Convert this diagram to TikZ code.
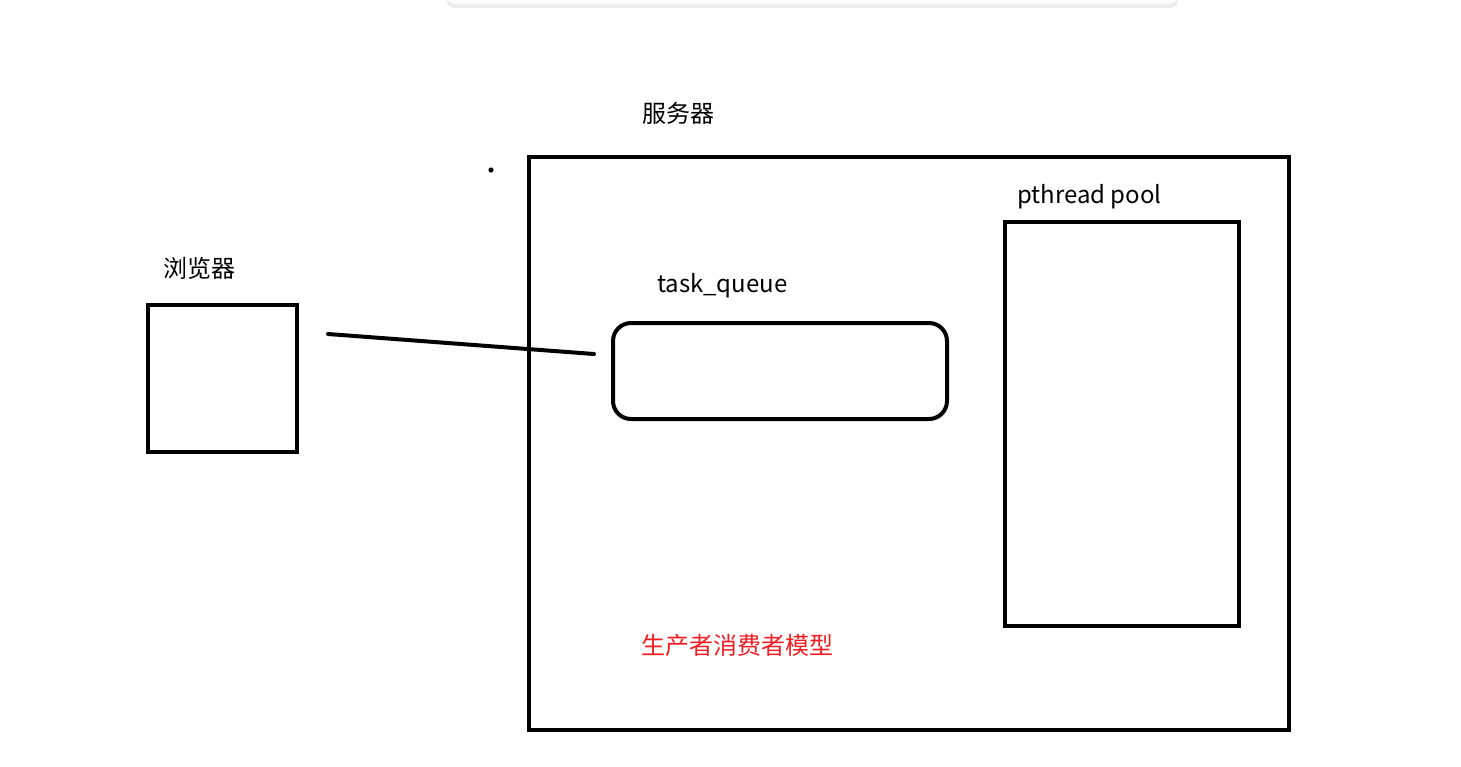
\documentclass[tikz,border=0pt]{standalone}
\usepackage{fontspec}
\setmainfont{Noto Sans CJK SC}
\usetikzlibrary{positioning, calc, shadows}
\definecolor{labelred}{RGB}{240,30,35}

\begin{document}
\begin{tikzpicture}[x=0.5pt, y=-0.5pt, line width=2pt,
    box/.style={draw, rectangle, inner sep=0pt},
    lbl/.style={inner sep=0pt, font=\fontsize{12pt}{14pt}\selectfont}]
    \useasboundingbox (0,0) rectangle (1461,766);

    % window bar at the top
    \fill[gray!4, drop shadow={opacity=0.15, shadow xshift=0pt, shadow yshift=-2pt}]
        (447,-12) [rounded corners=4pt] rectangle (1178,4);

    % browser
    \node[box, minimum width=74.5pt, minimum height=73.5pt] (browser) at (222.5,378.5) {};
    \node[lbl] (browserlbl) at (199,268) {浏览器};

    % server
    \node[box, minimum width=380pt, minimum height=286.5pt] (server) at (909,443.5) {};
    \node[lbl] (serverlbl) at (678,113) {服务器};
    \fill (491,170) circle (1.3pt);

    % task queue
    \node[box, rounded corners=9pt, minimum width=167pt, minimum height=48pt] (queue) at (780,371) {};
    \node[lbl, anchor=west] (queuelbl) at (655,286) {task\_queue};

    % thread pool
    \node[box, minimum width=117pt, minimum height=202pt] (pool) at (1122,424) {};
    \node[lbl, anchor=west] (poollbl) at (1015,197) {pthread pool};

    % request line
    \coordinate (reqstart) at (328,334);
    \coordinate (reqend) at (594,354);
    \draw[line cap=round] (reqstart) -- (reqend);

    % caption
    \node[lbl, text=labelred] (model) at (737,645) {生产者消费者模型};
\end{tikzpicture}
\end{document}
